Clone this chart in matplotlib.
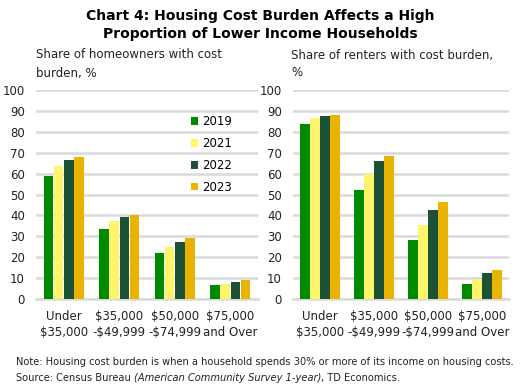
import matplotlib.pyplot as plt
import numpy as np

plt.rcParams['font.family'] = ['DejaVu Sans']

categories = ["Under\n$35,000", "$35,000\n-$49,999", "$50,000\n-$74,999", "$75,000\nand Over"]
years = ["2019", "2021", "2022", "2023"]
colors = ["#008A00", "#FFF56B", "#1B5236", "#E8B400"]

owners = [
    [58.7, 33.3, 21.8, 6.7],   # 2019
    [63.5, 37.2, 24.7, 7.3],   # 2021
    [66.5, 39.0, 27.5, 8.2],   # 2022
    [68.0, 40.0, 29.0, 9.2],   # 2023
]
renters = [
    [83.8, 52.2, 28.0, 7.1],
    [86.7, 60.0, 35.2, 9.6],
    [87.6, 66.1, 42.8, 12.3],
    [88.1, 68.5, 46.5, 14.0],
]

fig = plt.figure(figsize=(5.2, 3.86), dpi=100)
ax1 = fig.add_axes([36/520, 1-299/386, 222/520, 209/386])
ax2 = fig.add_axes([293/520, 1-299/386, 216/520, 209/386])

x = np.arange(len(categories))
w = 0.17
step = 0.185

for ax, data in [(ax1, owners), (ax2, renters)]:
    for i, vals in enumerate(data):
        ax.bar(x + (i - 1.5)*step, vals, width=w, color=colors[i], label=years[i], zorder=3)
    ax.set_ylim(0, 100)
    ax.set_xlim(-0.5, 3.5)
    ax.set_yticks(range(0, 101, 10))
    ax.yaxis.grid(True, color="#D9D9D9", linewidth=1.8, zorder=0)
    ax.set_axisbelow(True)
    for s in ax.spines.values():
        s.set_visible(False)
    ax.spines['bottom'].set_visible(True)
    ax.spines['bottom'].set_color("#D9D9D9")
    ax.spines['bottom'].set_linewidth(1.8)
    ax.tick_params(axis='both', length=0, labelsize=8.5, colors="#222222")
    ax.tick_params(axis='y', pad=8)
    ax.tick_params(axis='x', pad=8)
    ax.set_xticks(x)
    ax.set_xticklabels(categories, linespacing=1.3)

leg = ax1.legend(loc='upper right', bbox_to_anchor=(0.93, 0.93), frameon=False,
                 fontsize=8.5, handlelength=0.6, handleheight=0.6, labelspacing=0.75,
                 handletextpad=0.3)

fig.text(0.5, 1-25/386, "Chart 4: Housing Cost Burden Affects a High\nProportion of Lower Income Households",
         ha='center', va='center', fontsize=10, fontweight='bold', linespacing=1.3)
fig.text(36/520, 1-64/386, "Share of homeowners with cost\nburden, %",
         ha='left', va='center', fontsize=8.5, color="#222222", linespacing=1.5)
fig.text(291/520, 1-64/386, "Share of renters with cost burden,\n%",
         ha='left', va='center', fontsize=8.5, color="#222222", linespacing=1.5)

fs = 7.1
fig.text(16/520, 1-362/386, "Note: Housing cost burden is when a household spends 30% or more of its income on housing costs.",
         ha='left', va='center', fontsize=fs, color="#222222")

# source line built from pieces so the italic part sits inline
renderer = fig.canvas.get_renderer()
xpos = 16/520
for txt, sty in [("Source: Census Bureau ", 'normal'),
                 ("(American Community Survey 1-year)", 'italic'),
                 (", TD Economics.", 'normal')]:
    t = fig.text(xpos, 1-378/386, txt, ha='left', va='center', fontsize=fs, style=sty, color="#222222")
    bb = t.get_window_extent(renderer=renderer)
    xpos += bb.width / fig.bbox.width

fig.savefig("out.png", dpi=100)
